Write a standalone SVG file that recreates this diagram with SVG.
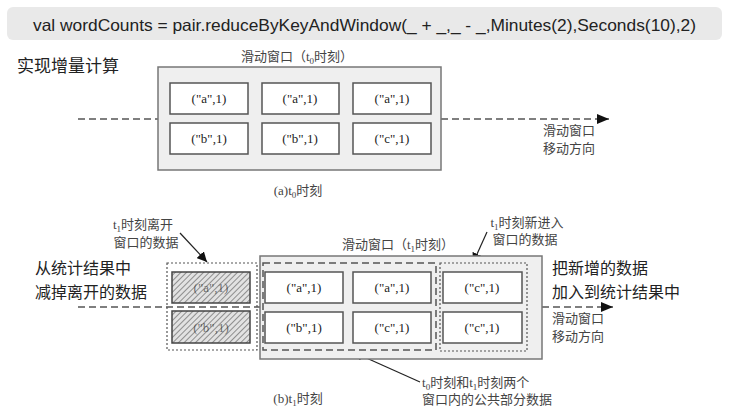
<svg xmlns="http://www.w3.org/2000/svg" width="737" height="414" viewBox="0 0 737 414">
<style>
.hdr{font-family:"Liberation Sans","Noto Sans CJK SC",sans-serif;font-size:16.5px;fill:#222}
.big{font-family:"Noto Sans CJK SC","Liberation Sans",sans-serif;font-size:16px;fill:#222}
.lbl{font-family:"Liberation Serif","Noto Sans CJK SC",serif;font-size:13px;fill:#444}
.cell{font-family:"Liberation Serif","Noto Sans CJK SC",serif;font-size:13px;fill:#222;text-anchor:middle}
.win{fill:#efefef;stroke:#777;stroke-width:1.5}
.box{fill:#fff;stroke:#555;stroke-width:1.5}
.hat{fill:url(#hatch);stroke:#444;stroke-width:1.5}
.dot{fill:none;stroke:#555;stroke-width:1.2;stroke-dasharray:2,2}
.dash{fill:none;stroke:#555;stroke-width:1.5;stroke-dasharray:7,4}
.line{fill:none;stroke:#222;stroke-width:1.2}
.sub{font-size:9px}
</style>
<defs>
<marker id="ah" viewBox="0 0 10 10" refX="10" refY="5" markerWidth="10" markerHeight="10" markerUnits="userSpaceOnUse" orient="auto">
<path d="M0,0 L10,5 L0,10 z" fill="#111"/>
</marker>
<marker id="ahb" viewBox="0 0 12 10" refX="12" refY="5" markerWidth="12" markerHeight="10" markerUnits="userSpaceOnUse" orient="auto">
<path d="M0,0 L12,5 L0,10 z" fill="#111"/>
</marker>
<pattern id="hatch" width="4" height="4" patternUnits="userSpaceOnUse" patternTransform="rotate(45)">
<rect width="4" height="4" fill="#e2e2e2"/>
<line x1="0" y1="0" x2="0" y2="4" stroke="#555" stroke-width="1.2"/>
</pattern>
</defs>

<g id="header">
<rect x="7" y="7" width="715" height="33" rx="6" fill="#e9e9e9"/>
<text class="hdr" x="33" y="31" textLength="663" lengthAdjust="spacingAndGlyphs">val wordCounts = pair.reduceByKeyAndWindow(_ + _,_ - _,Minutes(2),Seconds(10),2)</text>
</g>

<g id="title-incremental">
<text class="big" x="17" y="72" style="font-size:17px">实现增量计算</text>
</g>

<g id="connectors">
<line class="dash" x1="78" y1="119" x2="158" y2="119"/>
<line class="dash" x1="441" y1="119" x2="609" y2="119" marker-end="url(#ahb)"/>
<line class="dash" x1="78" y1="307" x2="260" y2="307"/>
<line class="dash" x1="542" y1="307" x2="613" y2="307" marker-end="url(#ahb)"/>
<line class="line" x1="180" y1="233" x2="207" y2="262" marker-end="url(#ah)"/>
<line class="line" x1="487" y1="232" x2="473" y2="263" marker-end="url(#ah)"/>
<line class="line" x1="420" y1="382" x2="353" y2="352" marker-end="url(#ah)"/>
</g>

<g id="window-t0">
<text class="lbl" x="297" y="61" text-anchor="middle">滑动窗口（t<tspan class="sub" dy="3">0</tspan><tspan dy="-3">时刻）</tspan></text>
<rect class="win" x="158" y="67" width="283" height="103"/>
<rect class="box" x="170" y="83" width="78" height="31"/>
<rect class="box" x="262" y="83" width="77" height="31"/>
<rect class="box" x="353" y="83" width="78" height="31"/>
<rect class="box" x="170" y="123" width="78" height="31"/>
<rect class="box" x="262" y="123" width="77" height="31"/>
<rect class="box" x="353" y="123" width="78" height="31"/>
<text class="cell" x="209" y="103">("a",1)</text>
<text class="cell" x="300" y="103">("a",1)</text>
<text class="cell" x="392" y="103">("a",1)</text>
<text class="cell" x="209" y="143">("b",1)</text>
<text class="cell" x="300" y="143">("b",1)</text>
<text class="cell" x="392" y="143">("c",1)</text>
</g>

<g id="dir-label-t0">
<text class="lbl" x="543" y="135">滑动窗口</text>
<text class="lbl" x="543" y="153">移动方向</text>
</g>

<g id="caption-a">
<text class="lbl" x="298" y="195" text-anchor="middle">(a)t<tspan class="sub" dy="3">0</tspan><tspan dy="-3">时刻</tspan></text>
</g>

<g id="leaving-label">
<text class="lbl" x="143" y="229" text-anchor="middle">t<tspan class="sub" dy="3">1</tspan><tspan dy="-3">时刻离开</tspan></text>
<text class="lbl" x="146" y="247" text-anchor="middle">窗口的数据</text>
</g>

<g id="subtract-label">
<text class="big" x="35" y="274">从统计结果中</text>
<text class="big" x="35" y="297.5">减掉离开的数据</text>
</g>

<g id="leaving-data">
<rect class="dot" x="167" y="263" width="90" height="87"/>
<rect class="hat" x="172" y="272" width="78" height="31"/>
<rect class="hat" x="172" y="311" width="78" height="32"/>
<text class="cell" x="211" y="292" fill-opacity="0.6">("a",1)</text>
<text class="cell" x="211" y="332" fill-opacity="0.6">("b",1)</text>
</g>

<g id="window-t1">
<text class="lbl" x="398" y="249" text-anchor="middle">滑动窗口（t<tspan class="sub" dy="3">1</tspan><tspan dy="-3">时刻）</tspan></text>
<rect class="win" x="260" y="256" width="282" height="103"/>
<rect class="dash" x="263" y="263" width="173" height="87"/>
<rect class="dot" x="440" y="263" width="87" height="88"/>
<rect class="box" x="265" y="272" width="78" height="31"/>
<rect class="box" x="353" y="272" width="78" height="31"/>
<rect class="box" x="443" y="272" width="79" height="31"/>
<rect class="box" x="265" y="312" width="78" height="31"/>
<rect class="box" x="353" y="312" width="78" height="31"/>
<rect class="box" x="443" y="312" width="79" height="31"/>
<text class="cell" x="304" y="292">("a",1)</text>
<text class="cell" x="392" y="292">("a",1)</text>
<text class="cell" x="482" y="292">("c",1)</text>
<text class="cell" x="304" y="332">("b",1)</text>
<text class="cell" x="392" y="332">("c",1)</text>
<text class="cell" x="482" y="332">("c",1)</text>
</g>

<g id="entering-label">
<text class="lbl" x="527" y="227" text-anchor="middle">t<tspan class="sub" dy="3">1</tspan><tspan dy="-3">时刻新进入</tspan></text>
<text class="lbl" x="525" y="244" text-anchor="middle">窗口的数据</text>
</g>

<g id="add-label">
<text class="big" x="552" y="274">把新增的数据</text>
<text class="big" x="552" y="297.5">加入到统计结果中</text>
</g>

<g id="dir-label-t1">
<text class="lbl" x="552" y="323">滑动窗口</text>
<text class="lbl" x="552" y="341">移动方向</text>
</g>

<g id="common-label">
<text class="lbl" x="422" y="387">t<tspan class="sub" dy="3">0</tspan><tspan dy="-3">时刻和t</tspan><tspan class="sub" dy="3">1</tspan><tspan dy="-3">时刻两个</tspan></text>
<text class="lbl" x="422" y="404">窗口内的公共部分数据</text>
</g>

<g id="caption-b">
<text class="lbl" x="298" y="403" text-anchor="middle">(b)t<tspan class="sub" dy="3">1</tspan><tspan dy="-3">时刻</tspan></text>
</g>
</svg>
